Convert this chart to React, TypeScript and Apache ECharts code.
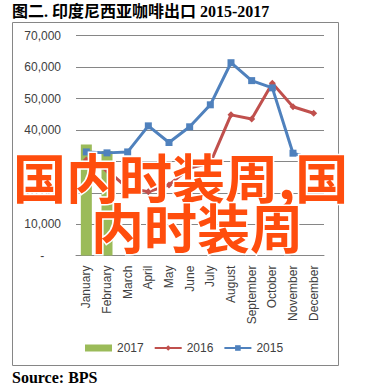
import React, { useEffect, useRef } from "react";
import * as echarts from "echarts";

const months = ["January", "February", "March", "April", "May", "June", "July", "August", "September", "October", "November", "December"];
const series2017 = [35400, 33300, null, null, null, null, null, null, null, null, null, null];
const series2016 = [30400, 27200, 21500, 20300, 22500, 27900, 29500, 44800, 43500, 54900, 47400, 45300];
const series2015 = [33000, 32700, 33000, 41300, 36000, 41000, 48000, 61400, 55700, 53400, 32600, 30800];
const titleText = "图二. 印度尼西亚咖啡出口 2015-2017";
const sourceText = "Source: BPS";
const watermark1 = "国内时装周,国";
const watermark2 = "内时装周";

export default function App() {
  const ref = useRef<HTMLDivElement>(null);
  useEffect(() => {
    if (!ref.current) return;
    const chart = echarts.init(ref.current, null, { renderer: "svg" });
    const axisFont = "Liberation Sans, Arial, sans-serif";
    chart.setOption({
      animation: false,
      backgroundColor: "#ffffff",
      grid: { left: 76, right: 65, top: 35.7, bottom: 132.4 },
      legend: {
        left: 80,
        top: 337,
        itemWidth: 27,
        itemHeight: 7,
        itemGap: 10,
        textStyle: { fontFamily: axisFont, fontSize: 12, color: "#404040" },
        data: [
          { name: "2017", icon: "rect" },
          { name: "2016" },
          { name: "2015" },
        ],
      },
      xAxis: {
        type: "category",
        data: months,
        boundaryGap: true,
        axisTick: { show: false },
        axisLine: { lineStyle: { color: "#868686", width: 1 } },
        axisLabel: { rotate: 90, margin: 10, fontSize: 12, color: "#404040", fontFamily: axisFont, interval: 0 },
      },
      yAxis: {
        type: "value",
        min: 0,
        max: 70000,
        interval: 10000,
        axisLine: { show: false },
        axisTick: { show: false },
        splitLine: { lineStyle: { color: "#868686", width: 1 } },
        axisLabel: {
          margin: 15,
          fontSize: 12,
          color: "#404040",
          fontFamily: axisFont,
          formatter: (v: number) => (v === 0 ? "-     " : v.toLocaleString("en-US")),
        },
      },
      series: [
        {
          name: "2017",
          type: "bar",
          data: series2017,
          barWidth: 11,
          itemStyle: { color: "#9BBB59" },
        },
        {
          name: "2016",
          type: "line",
          data: series2016,
          symbol: "diamond",
          symbolSize: 7,
          lineStyle: { color: "#C0504D", width: 3 },
          itemStyle: { color: "#C0504D" },
        },
        {
          name: "2015",
          type: "line",
          data: series2015,
          symbol: "rect",
          symbolSize: 7,
          lineStyle: { color: "#4F81BD", width: 3 },
          itemStyle: { color: "#4F81BD" },
        },
      ],
      graphic: [
        {
          type: "rect",
          z: -1,
          silent: true,
          shape: { x: 12.5, y: 22.5, width: 326, height: 343 },
          style: { fill: "none", stroke: "#868686", lineWidth: 1 },
        },
        {
          type: "text",
          x: 12,
          y: 11,
          style: {
            text: titleText,
            font: 'bold 16px "Liberation Serif", "Noto Sans CJK SC", serif',
            fill: "#000000",
            verticalAlign: "middle",
          },
        },
        {
          type: "text",
          x: 12,
          y: 377,
          style: {
            text: sourceText,
            font: 'bold 16px "Liberation Serif", serif',
            fill: "#000000",
            verticalAlign: "middle",
          },
        },
        {
          type: "text",
          x: 13,
          y: 176,
          z: 100,
          style: {
            text: watermark1,
            font: 'bold 53px "Noto Sans CJK SC", sans-serif',
            fill: "#FF4D0D",
            stroke: "#ffffff",
            lineWidth: 3,
            verticalAlign: "middle",
          },
        },
        {
          type: "text",
          x: 91,
          y: 226,
          z: 100,
          style: {
            text: watermark2,
            font: 'bold 53px "Noto Sans CJK SC", sans-serif',
            fill: "#FF4D0D",
            stroke: "#ffffff",
            lineWidth: 3,
            verticalAlign: "middle",
          },
        },
      ],
    });
    return () => chart.dispose();
  }, []);
  return (
    <div
      ref={ref}
      style={{ position: "fixed", left: 0, top: 0, width: 389, height: 388 }}
    />
  );
}
